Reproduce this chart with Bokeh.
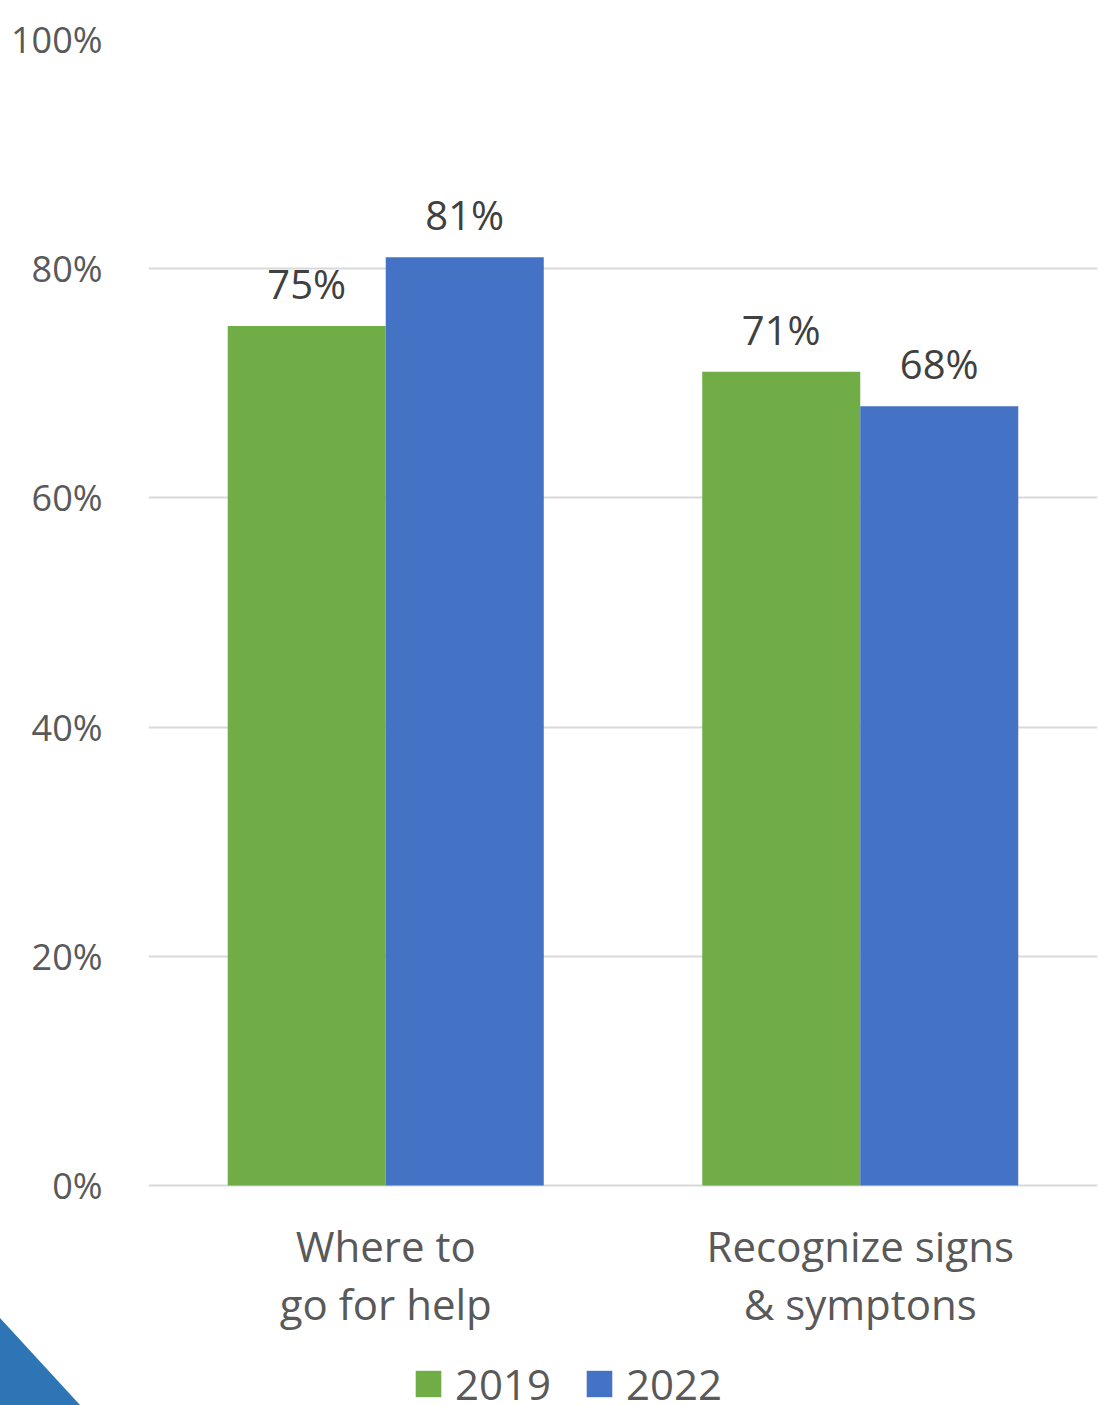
from bokeh.plotting import figure
from bokeh.models import (ColumnDataSource, FactorRange, Range1d, NumeralTickFormatter,
                          LabelSet, Legend, LegendItem, FixedTicker, Div)
from bokeh.core.properties import value
from bokeh.transform import dodge
from bokeh.embed import file_html
from bokeh.resources import INLINE

categories = ["Where to\ngo for help", "Recognize signs\n& symptons"]
years = ["2019", "2022"]
values_2019 = [0.75, 0.71]
values_2022 = [0.81, 0.68]
y_ticks = [0, 0.2, 0.4, 0.6, 0.8, 1.0]

GREEN = "#70AD47"
BLUE = "#4472C4"
FONT = "Open Sans"

src = ColumnDataSource(dict(
    cat=categories,
    v2019=values_2019,
    v2022=values_2022,
    l2019=[f"{round(v*100)}%" for v in values_2019],
    l2022=[f"{round(v*100)}%" for v in values_2022],
    line1=[c.split("\n")[0] for c in categories],
    line2=[c.split("\n")[1] for c in categories],
))

# frame: top at 39 px (100%), 0% at 1185 px, frame runs to the page bottom (1405 px)
px_per_unit = 1185 - 39
y_bottom = -(1405 - 1185) / px_per_unit

p = figure(width=1098, height=1405, output_backend="svg", toolbar_location=None,
           x_range=FactorRange(*categories, range_padding=0), y_range=Range1d(y_bottom, 1.0),
           min_border_left=148, min_border_right=1, min_border_top=39, min_border_bottom=0)
p.outline_line_color = None
p.background_fill_color = "white"
p.border_fill_color = "white"

bw = 0.333
r1 = p.vbar(x=dodge("cat", -bw/2, range=p.x_range), top="v2019", width=bw, source=src,
            fill_color=GREEN, line_color=None)
r2 = p.vbar(x=dodge("cat", bw/2, range=p.x_range), top="v2022", width=bw, source=src,
            fill_color=BLUE, line_color=None)

for col, lab, off in (("v2019", "l2019", -bw/2), ("v2022", "l2022", bw/2)):
    ls = LabelSet(x=dodge("cat", off, range=p.x_range), y=col, text=lab, source=src,
                  text_align="center", text_baseline="bottom", y_offset=15,
                  text_font=value(FONT), text_font_size="40px", text_color="#404040")
    p.add_layout(ls)

# category labels (two lines) below the baseline
p.text(x="cat", y=-(1245 - 1185) / px_per_unit, text="line1", source=src,
       text_align="center", text_baseline="alphabetic", text_font=value(FONT),
       text_font_size="42px", text_color="#595959")
p.text(x="cat", y=-(1303 - 1185) / px_per_unit, text="line2", source=src,
       text_align="center", text_baseline="alphabetic", text_font=value(FONT),
       text_font_size="42px", text_color="#595959")

p.xaxis.visible = False

p.yaxis.ticker = FixedTicker(ticks=y_ticks)
p.yaxis.formatter = NumeralTickFormatter(format="0%")
p.yaxis.axis_line_color = None
p.yaxis.major_tick_line_color = None
p.yaxis.minor_tick_line_color = None
p.yaxis.major_label_text_font = FONT
p.yaxis.major_label_text_font_size = "36px"
p.yaxis.major_label_text_color = "#595959"
p.yaxis.major_label_standoff = 40

p.xgrid.grid_line_color = None
p.ygrid.grid_line_color = "#D9D9D9"
p.ygrid.grid_line_width = 2
p.ygrid.ticker = FixedTicker(ticks=y_ticks)

legend = Legend(items=[LegendItem(label=years[0], renderers=[r1]),
                       LegendItem(label=years[1], renderers=[r2])],
                orientation="horizontal", location=(264, -7),
                label_text_font=FONT, label_text_font_size="42px", label_text_color="#595959",
                glyph_width=32, glyph_height=33, label_standoff=11, spacing=32,
                border_line_color=None, background_fill_alpha=0, padding=0, margin=0)
p.add_layout(legend, "center")

corner = Div(text='<svg style="position:fixed;left:0;top:1318px" width="80" height="87">'
                  '<polygon points="0,0 80,87 0,87" fill="#2E75B6"/></svg>',
             width=0, height=0)

open("out.html", "w").write(file_html([p, corner], INLINE))
